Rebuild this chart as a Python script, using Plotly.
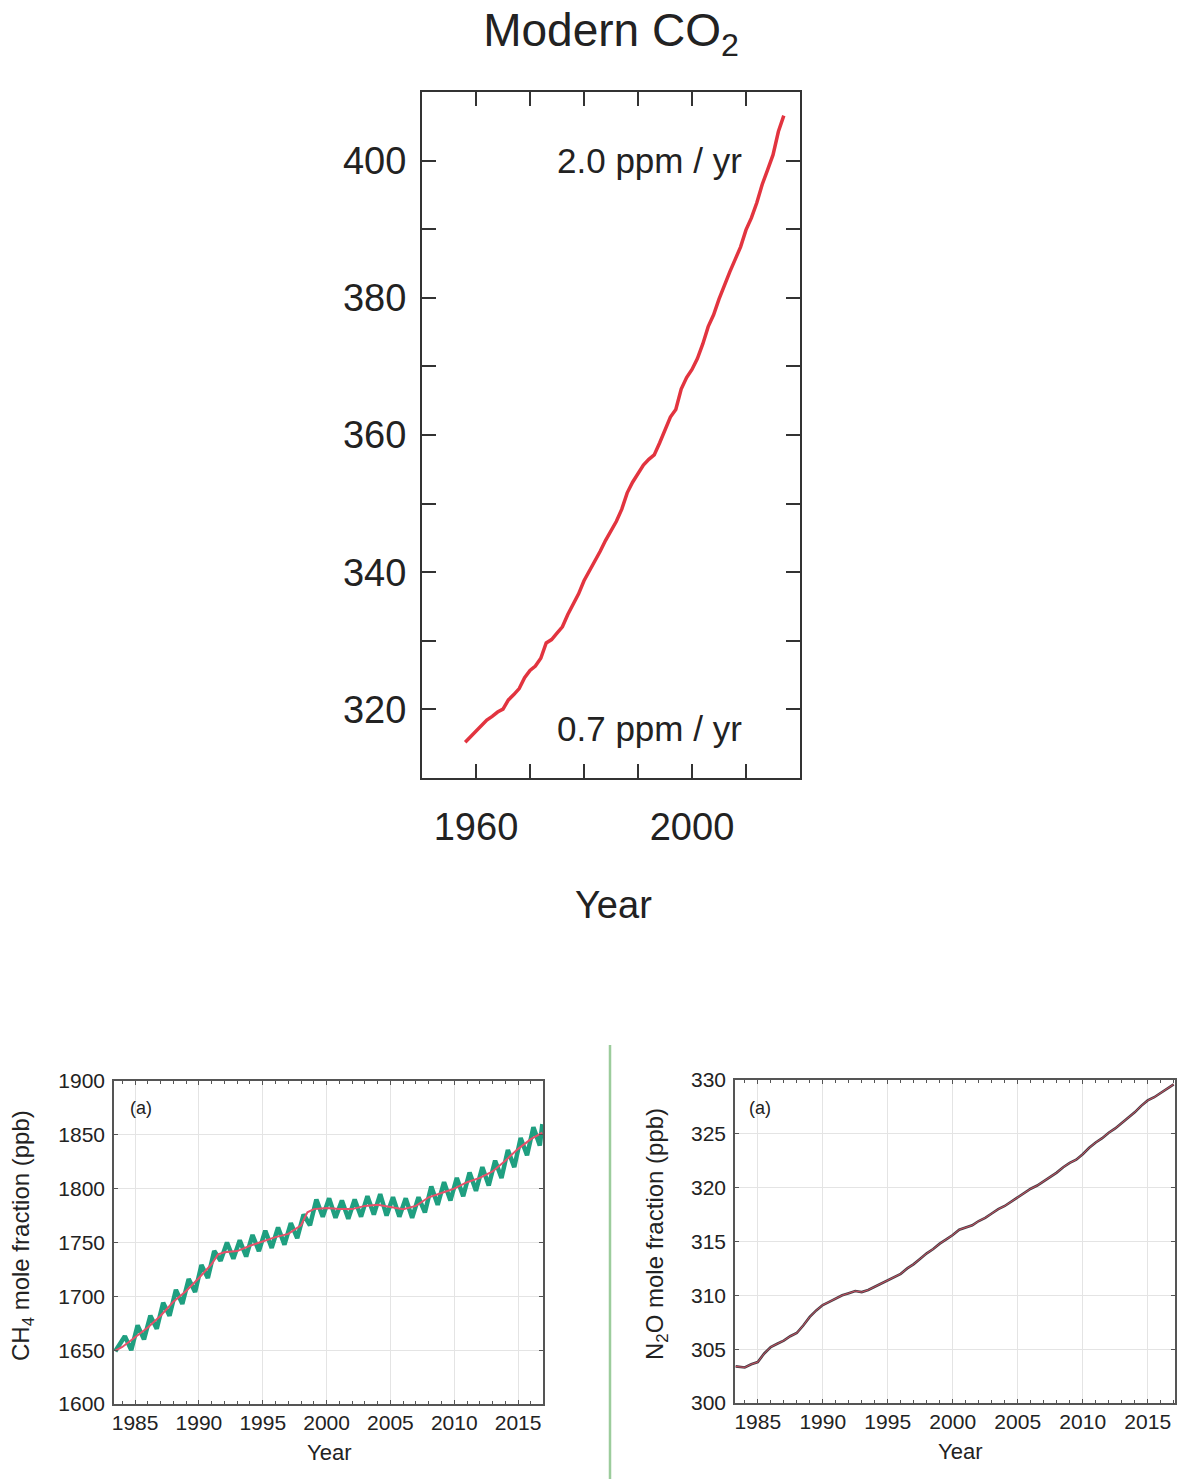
import plotly.graph_objects as go

# ---------------- Data ----------------
co2_years = [1958, 1959, 1960, 1961, 1962, 1963, 1964, 1965, 1966, 1967, 1968, 1969,
             1970, 1971, 1972, 1973, 1974, 1975, 1976, 1977, 1978, 1979, 1980, 1981,
             1982, 1983, 1984, 1985, 1986, 1987, 1988, 1989, 1990, 1991, 1992, 1993,
             1994, 1995, 1996, 1997, 1998, 1999, 2000, 2001, 2002, 2003, 2004, 2005,
             2006, 2007, 2008, 2009, 2010, 2011, 2012, 2013, 2014, 2015, 2016, 2017]
co2_ppm = [315.2, 315.97, 316.91, 317.64, 318.45, 318.99, 319.62, 320.04, 321.38, 322.16,
           323.04, 324.62, 325.68, 326.32, 327.45, 329.68, 330.18, 331.11, 332.04, 333.83,
           335.40, 336.84, 338.75, 340.11, 341.45, 343.05, 344.65, 346.12, 347.42, 349.19,
           351.57, 353.12, 354.39, 355.61, 356.45, 357.10, 358.83, 360.82, 362.61, 363.73,
           366.70, 368.38, 369.55, 371.14, 373.28, 375.80, 377.52, 379.80, 381.90, 383.79,
           385.60, 387.43, 389.90, 391.65, 393.85, 396.52, 398.65, 400.83, 404.24, 406.55]

# CH4 seasonal cycle: yearly maxima and minima (ppb)
ch4_cycle_years = [1984, 1985, 1986, 1987, 1988, 1989, 1990, 1991, 1992, 1993, 1994,
                   1995, 1996, 1997, 1998, 1999, 2000, 2001, 2002, 2003, 2004, 2005,
                   2006, 2007, 2008, 2009, 2010, 2011, 2012, 2013, 2014, 2015, 2016]
ch4_peaks = [1663, 1673, 1682, 1694, 1706, 1716, 1729, 1742, 1750, 1752, 1757,
             1761, 1764, 1768, 1776, 1790, 1791, 1789, 1790, 1793, 1795, 1792,
             1791, 1792, 1802, 1806, 1810, 1815, 1820, 1826, 1836, 1847, 1857]
ch4_troughs = [1650, 1660, 1670, 1682, 1693, 1704, 1717, 1733, 1735, 1737, 1742,
               1745, 1748, 1754, 1766, 1774, 1773, 1772, 1774, 1776, 1775, 1774,
               1773, 1778, 1785, 1789, 1793, 1798, 1803, 1810, 1820, 1831, 1840]
ch4_start = [1983.45, 1649]
ch4_end = [2016.9, 1860]

ch4_trend_years = [1983.45, 1984, 1985, 1986, 1987, 1988, 1989, 1990, 1991, 1991.5, 1992,
                   1993, 1994, 1995, 1996, 1997, 1998, 1998.5, 1999, 2000, 2001, 2002,
                   2003, 2004, 2005, 2006, 2007, 2008, 2009, 2010, 2011, 2012, 2013,
                   2014, 2015, 2016, 2016.9]
ch4_trend = [1649.5, 1653, 1662, 1671, 1682, 1695, 1705, 1717, 1730, 1739, 1741,
             1742, 1747, 1751, 1755, 1758, 1766, 1778, 1781, 1782, 1781, 1781,
             1784, 1785, 1783, 1781, 1784, 1792, 1796, 1800, 1806, 1810, 1816,
             1826, 1837, 1846, 1852]

n2o_years = [1983.3, 1984, 1984.5, 1985, 1985.5, 1986, 1986.5, 1987, 1987.5, 1988, 1988.5,
             1989, 1989.5, 1990, 1990.5, 1991, 1991.5, 1992, 1992.5, 1993, 1993.5, 1994,
             1994.5, 1995, 1995.5, 1996, 1996.5, 1997, 1997.5, 1998, 1998.5, 1999, 1999.5,
             2000, 2000.5, 2001, 2001.5, 2002, 2002.5, 2003, 2003.5, 2004, 2004.5, 2005,
             2005.5, 2006, 2006.5, 2007, 2007.5, 2008, 2008.5, 2009, 2009.5, 2010, 2010.5,
             2011, 2011.5, 2012, 2012.5, 2013, 2013.5, 2014, 2014.5, 2015, 2015.5, 2016,
             2016.5, 2017]
n2o_ppb = [303.4, 303.3, 303.6, 303.8, 304.6, 305.2, 305.5, 305.8, 306.2, 306.5, 307.2,
           308.0, 308.6, 309.1, 309.4, 309.7, 310.0, 310.2, 310.4, 310.3, 310.5, 310.8,
           311.1, 311.4, 311.7, 312.0, 312.5, 312.9, 313.4, 313.9, 314.3, 314.8, 315.2,
           315.6, 316.1, 316.3, 316.5, 316.9, 317.2, 317.6, 318.0, 318.3, 318.7, 319.1,
           319.5, 319.9, 320.2, 320.6, 321.0, 321.4, 321.9, 322.3, 322.6, 323.1, 323.7,
           324.2, 324.6, 325.1, 325.5, 326.0, 326.5, 327.0, 327.6, 328.1, 328.4, 328.8,
           329.2, 329.6]

co2_xticks = [1960, 2000]
co2_xminor = [1960, 1970, 1980, 1990, 2000, 2010]
co2_yticks = [320, 340, 360, 380, 400]
co2_yminor = [310, 320, 330, 340, 350, 360, 370, 380, 390, 400, 410]

# ---------------- Build ----------------
FONT = "Liberation Sans, Arial, Helvetica, sans-serif"
W, H = 1185, 1479


def px(x):
    return x / W


def py(y):
    return 1 - y / H


# CH4 zig-zag built from the yearly extremes
ch4_x = [ch4_start[0]]
ch4_y = [ch4_start[1]]
for yr, pk, tr in zip(ch4_cycle_years, ch4_peaks, ch4_troughs):
    ch4_x += [yr + 0.2, yr + 0.7]
    ch4_y += [pk, tr]
ch4_x.append(ch4_end[0])
ch4_y.append(ch4_end[1])

fig = go.Figure()

fig.add_trace(go.Scatter(x=co2_years, y=co2_ppm, mode="lines",
                         line=dict(color="#e2343f", width=3.5),
                         xaxis="x", yaxis="y", showlegend=False))

fig.add_trace(go.Scatter(x=ch4_x, y=ch4_y, mode="lines",
                         line=dict(color="#1f9f80", width=4.5),
                         xaxis="x2", yaxis="y2", showlegend=False))
fig.add_trace(go.Scatter(x=ch4_trend_years, y=ch4_trend, mode="lines",
                         line=dict(color="#e8506a", width=2),
                         xaxis="x2", yaxis="y2", showlegend=False))

fig.add_trace(go.Scatter(x=n2o_years, y=n2o_ppb, mode="lines",
                         line=dict(color="#4a4048", width=2.6),
                         xaxis="x3", yaxis="y3", showlegend=False))
fig.add_trace(go.Scatter(x=n2o_years, y=n2o_ppb, mode="lines",
                         line=dict(color="#cc5060", width=1),
                         xaxis="x3", yaxis="y3", showlegend=False))

big_axis = dict(showline=True, linecolor="#333333", linewidth=2, mirror="ticks",
                ticks="inside", ticklen=14, tickwidth=2, tickcolor="#333333",
                showgrid=False, zeroline=False, automargin=False,
                tickfont=dict(family=FONT, size=38, color="#222222"))

small_axis = dict(showline=True, linecolor="#555555", linewidth=1.5, mirror="ticks",
                  ticks="inside", ticklen=4, tickwidth=1, tickcolor="#555555",
                  showgrid=True, gridcolor="#e4e4e4", gridwidth=1, zeroline=False,
                  automargin=False,
                  tickfont=dict(family=FONT, size=21, color="#222222"))

minor_small = dict(dtick=1, ticks="inside", ticklen=3, tickcolor="#555555",
                   showgrid=False)


def label(text, x, y, size, angle=0, anchor="center"):
    return dict(text=text, xref="paper", yref="paper", x=px(x), y=py(y),
                xanchor=anchor, yanchor="middle", showarrow=False, textangle=angle,
                font=dict(family=FONT, size=size, color="#222222"))


fig.update_layout(
    width=W, height=H,
    margin=dict(l=0, r=0, t=0, b=0, autoexpand=False),
    paper_bgcolor="white", plot_bgcolor="white",
    title=dict(text="Modern CO<sub>2</sub>", x=px(611), xanchor="center",
               y=py(30), yanchor="middle",
               font=dict(family=FONT, size=46, color="#222222")),
    xaxis=dict(big_axis, domain=[px(422), px(800)], range=[1950, 2020],
               tickvals=co2_xticks, anchor="y", ticklabelstandoff=14,
               minor=dict(tickvals=co2_xminor, ticks="inside", ticklen=14, tickwidth=2,
                          tickcolor="#333333", showgrid=False)),
    yaxis=dict(big_axis, domain=[py(778), py(92)], range=[310, 410],
               tickvals=co2_yticks, anchor="x", ticklabelstandoff=6,
               minor=dict(tickvals=co2_yminor, ticks="inside", ticklen=14, tickwidth=2,
                          tickcolor="#333333", showgrid=False)),
    xaxis2=dict(small_axis, domain=[px(114), px(543)], range=[1983.35, 2016.95],
                dtick=5, tick0=1985, anchor="y2", ticklabelstandoff=-1,
                minor=minor_small),
    yaxis2=dict(small_axis, domain=[py(1404), py(1081)], range=[1600, 1900],
                dtick=50, anchor="x2", ticklabelstandoff=3),
    xaxis3=dict(small_axis, domain=[px(735), px(1175)], range=[1983.25, 2017.1],
                dtick=5, tick0=1985, anchor="y3", ticklabelstandoff=-1,
                minor=minor_small),
    yaxis3=dict(small_axis, domain=[py(1403), py(1080)], range=[300, 330],
                dtick=5, anchor="x3", ticklabelstandoff=3),
    annotations=[
        label("2.0 ppm / yr", 744, 160, 35, anchor="right"),
        label("0.7 ppm / yr", 744, 728, 35, anchor="right"),
        label("Year", 613, 905, 38),
        label("(a)", 128, 1108, 18, anchor="left"),
        label("(a)", 747, 1108, 18, anchor="left"),
        label("Year", 329, 1452, 22),
        label("Year", 960, 1451, 22),
        label("CH<sub>4</sub> mole fraction (ppb)", 22, 1236, 24, angle=-90),
        label("N<sub>2</sub>O mole fraction (ppb)", 656, 1234, 24, angle=-90),
    ],
    shapes=[
        dict(type="line", xref="paper", yref="paper", x0=px(610), x1=px(610),
             y0=py(1045), y1=0, line=dict(color="#9ccc9c", width=2.5)),
    ],
)

fig.write_html("out.html",
               config={"displayModeBar": False},
               post_script="document.body.style.margin='0';"
                           "document.body.style.overflow='hidden';")
